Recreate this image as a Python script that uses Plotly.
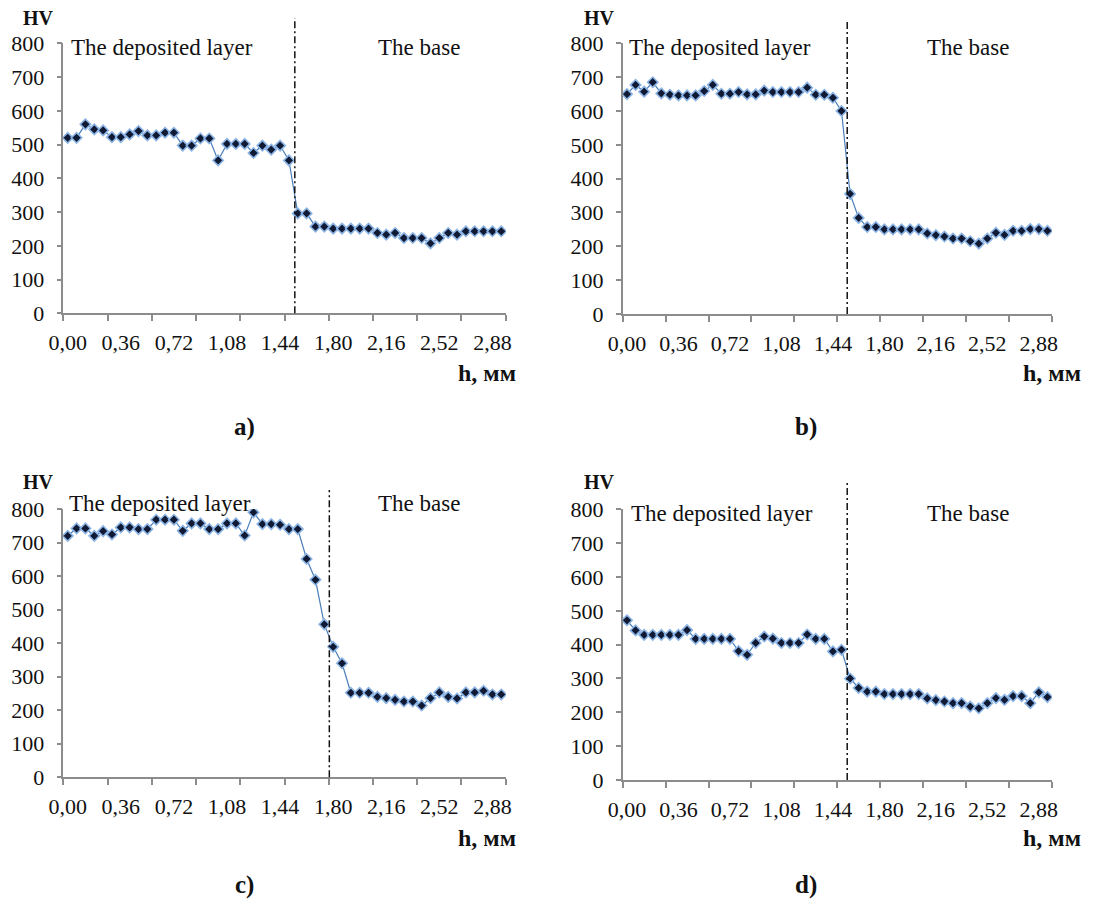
import plotly.graph_objects as go

# ---- data ----
h_mm = [round(0.06 * i, 2) for i in range(50)]
tick_vals = [0.0, 0.36, 0.72, 1.08, 1.44, 1.80, 2.16, 2.52, 2.88]
tick_text = ["0,00", "0,36", "0,72", "1,08", "1,44", "1,80", "2,16", "2,52", "2,88"]

hv_a = [520, 520, 560, 545, 542, 522, 522, 530, 540, 527, 527, 535, 535, 497, 497, 518, 518, 453,
        502, 502, 502, 475, 497, 485, 497, 453, 296, 296, 257, 257, 251, 251, 251, 251, 251, 238,
        233, 238, 223, 223, 223, 207, 223, 238, 233, 243, 243, 243, 243, 243]
hv_b = [650, 677, 657, 685, 652, 648, 646, 646, 646, 659, 677, 651, 651, 656, 649, 649, 660, 656,
        656, 656, 656, 669, 648, 648, 639, 600, 355, 284, 257, 257, 250, 250, 250, 250, 250, 238,
        233, 229, 223, 223, 215, 208, 223, 240, 234, 246, 246, 251, 251, 246]
hv_c = [720, 742, 742, 720, 734, 724, 745, 745, 740, 740, 768, 768, 768, 735, 757, 757, 740, 740,
        757, 757, 721, 790, 755, 755, 753, 740, 740, 651, 589, 456, 389, 340, 252, 252, 252, 240,
        236, 231, 226, 226, 214, 236, 253, 240, 235, 253, 253, 258, 247, 247]
hv_d = [472, 442, 429, 429, 429, 429, 429, 443, 417, 417, 417, 417, 417, 381, 370, 405, 424, 418,
        405, 405, 405, 430, 417, 417, 380, 385, 300, 272, 261, 261, 254, 254, 254, 254, 254, 241,
        236, 232, 227, 227, 217, 212, 227, 242, 237, 248, 248, 227, 259, 245]

series = [hv_a, hv_b, hv_c, hv_d]
panel_labels = ["a)", "b)", "c)", "d)"]
boundary_h = [1.54, 1.54, 1.774, 1.54]
region_left = "The deposited layer"
region_right = "The base"
y_title = "HV"
x_title = "h, мм"

W, H = 1097, 912
FONT = "Times New Roman, Liberation Serif, serif"

# pixel layout of each panel: (x0, x1, ytop, ybottom)
boxes = [(63.3, 505.7, 43.3, 313.3),
         (622.7, 1051.7, 43.3, 314.0),
         (63.3, 505.7, 509.0, 777.3),
         (622.7, 1051.7, 509.3, 780.0)]
line_tops = [18, 20, 490, 483]
hv_pos = [(38, 18), (599, 18), (38, 482), (599, 482)]
left_txt = [(162, 47), (720, 47), (160, 503), (722, 513)]
right_txt = [(419, 47), (968, 47), (419, 503), (968, 513)]
xt_pos = [(487, 373), (1052, 373), (487, 838), (1052, 838)]
lab_pos = [(244, 427), (806, 427), (244, 885), (806, 885)]

def px(x):
    return x / W

def py(y):
    return 1 - y / H

def note(x, y, text, size):
    return dict(xref="paper", yref="paper", x=px(x), y=py(y), text=text, showarrow=False,
                xanchor="center", yanchor="middle",
                font=dict(family=FONT, size=size, color="#111"))

fig = go.Figure()
annotations = []
shapes = []
for k, vals in enumerate(series):
    n = k + 1
    xa = "x" if n == 1 else f"x{n}"
    ya = "y" if n == 1 else f"y{n}"
    fig.add_trace(go.Scatter(
        x=h_mm, y=vals, mode="lines+markers", xaxis=xa, yaxis=ya,
        line=dict(color="#4a7ebb", width=1.2),
        marker=dict(symbol="diamond", size=8, color="#101a35",
                    line=dict(color="#8cb4e4", width=1.6)),
        showlegend=False))
    x0, x1, yt, yb = boxes[k]
    xkey = "xaxis" if n == 1 else f"xaxis{n}"
    ykey = "yaxis" if n == 1 else f"yaxis{n}"
    fig.layout[xkey] = dict(
        domain=[px(x0), px(x1)], anchor=ya, range=[-0.03, 2.97], automargin=False,
        tickmode="array", tickvals=tick_vals, ticktext=tick_text, ticks="",
        ticklabelstandoff=9,
        minor=dict(ticks="outside", tickmode="linear", tick0=-0.03, dtick=0.3,
                   ticklen=6, tickcolor="#8c8c8c", tickwidth=1.5, showgrid=False),
        showline=True, linecolor="#8c8c8c", linewidth=1.5, showgrid=False, zeroline=False,
        tickfont=dict(family=FONT, size=22, color="#111"))
    fig.layout[ykey] = dict(
        domain=[py(yb), py(yt)], anchor=xa, range=[0, 800], tickmode="linear", automargin=False,
        tick0=0, dtick=100, ticks="outside", ticklen=5, tickcolor="#8c8c8c", tickwidth=1.5,
        ticklabelstandoff=8,
        showline=True, linecolor="#8c8c8c", linewidth=1.5, showgrid=False, zeroline=False,
        tickfont=dict(family=FONT, size=22, color="#111"))
    shapes.append(dict(type="line", xref=xa, yref="paper",
                       x0=boundary_h[k], x1=boundary_h[k], y0=py(yb), y1=py(line_tops[k]),
                       line=dict(color="#111", width=1.5, dash="7px,3px,2px,3px")))
    annotations.append(note(*hv_pos[k], f"<b>{y_title}</b>", 20))
    annotations.append(note(*left_txt[k], region_left, 23))
    annotations.append(note(*right_txt[k], region_right, 23))
    annotations.append(note(*xt_pos[k], f"<b>{x_title}</b>", 24))
    annotations.append(note(*lab_pos[k], f"<b>{panel_labels[k]}</b>", 25))

fig.update_layout(width=W, height=H, margin=dict(l=0, r=0, t=0, b=0, autoexpand=False),
                  template="none",
                  paper_bgcolor="white", plot_bgcolor="white",
                  shapes=shapes, annotations=annotations, showlegend=False)
fig.write_html("out.html", config={"displayModeBar": False},
               post_script="document.body.style.margin='0';")
